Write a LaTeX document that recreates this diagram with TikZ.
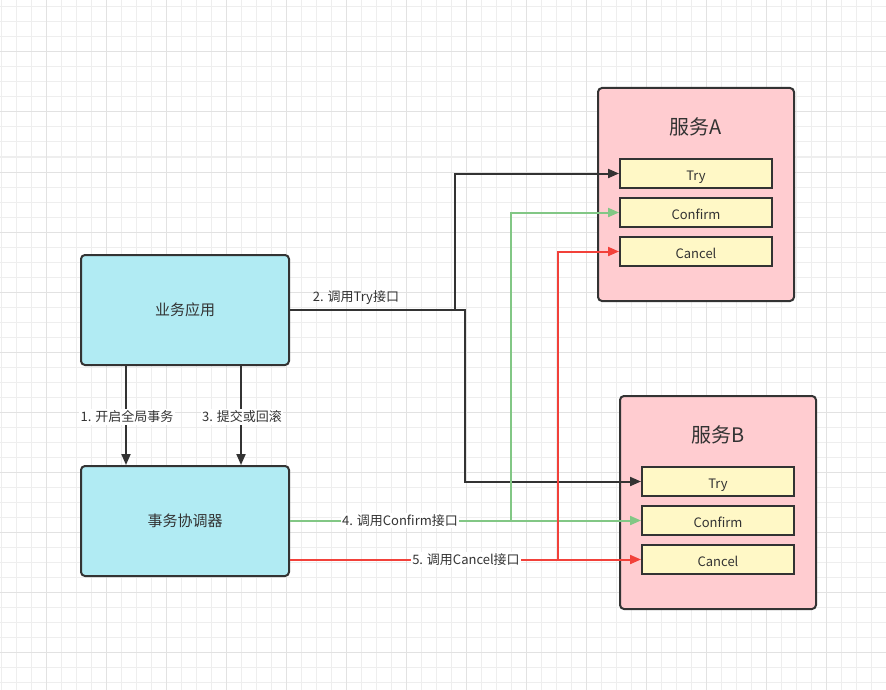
\documentclass[tikz,border=0pt]{standalone}
\usepackage{fontspec}
\setmainfont{Noto Sans CJK SC}
\usetikzlibrary{arrows.meta}
\definecolor{dk}{HTML}{333333}
\definecolor{cyanfill}{HTML}{B1EBF3}
\definecolor{pinkfill}{HTML}{FFCCD0}
\definecolor{yelfill}{HTML}{FFF8C6}
\definecolor{grn}{HTML}{82C785}
\definecolor{rd}{HTML}{F2413A}
\definecolor{gridminor}{HTML}{EEEEEE}
\definecolor{gridmajor}{HTML}{E2E2E2}
\tikzset{
  bigbox/.style={draw=dk, line width=2pt, rounded corners=4pt, fill=cyanfill, minimum width=208pt, minimum height=110pt, text=dk, font=\fontsize{15}{17}\selectfont, inner sep=0pt},
  svcbox/.style={draw=dk, line width=2pt, rounded corners=4pt, fill=pinkfill, minimum width=196pt, minimum height=213pt, inner sep=0pt},
  opbox/.style={draw=dk, line width=2pt, fill=yelfill, minimum width=152pt, minimum height=29pt, text=dk, font=\fontsize{13}{15}\selectfont, inner sep=0pt, text height=13pt, text depth=0pt},
  svctitle/.style={text=dk, font=\fontsize{20}{22}\selectfont, inner sep=0pt},
  lbl/.style={text=dk, font=\fontsize{13}{15}\selectfont, inner sep=1.5pt},
  lblbg/.style={lbl, fill=white},
  dkline/.style={draw=dk, line width=2pt, -{Triangle[length=11pt,width=9pt]}},
  gline/.style={draw=grn, line width=2pt, -{Triangle[length=11pt,width=9pt]}},
  rline/.style={draw=rd, line width=2pt, -{Triangle[length=11pt,width=9pt]}},
}
\begin{document}
\begin{tikzpicture}[x=1pt,y=-1pt]
\useasboundingbox (0,0) rectangle (886,690);
\fill[white] (0,0) rectangle (886,690);
% grid
\foreach \gx in {1,16,...,886} \draw[gridminor, line width=1pt] (\gx,0) -- (\gx,690);
\foreach \gy in {7,22,...,690} \draw[gridminor, line width=1pt] (0,\gy) -- (886,\gy);
\foreach \gx in {46,106,...,886} \draw[gridmajor, line width=1pt] (\gx,0) -- (\gx,690);
\foreach \gy in {52,112,...,690} \draw[gridmajor, line width=1pt] (0,\gy) -- (886,\gy);

% boxes
\node[bigbox] (app) at (185,310) {业务应用};
\node[bigbox] (coord) at (185,521) {事务协调器};
\node[svcbox] (svcA) at (696,194.5) {};
\node[svcbox] (svcB) at (718,502.5) {};
\node[svctitle] (titleA) at (696,127) {服务A};
\node[svctitle] (titleB) at (718,435) {服务B};
\node[opbox] (tryA) at (696,173.5) {Try};
\node[opbox] (confirmA) at (696,212.5) {Confirm};
\node[opbox] (cancelA) at (696,251.5) {Cancel};
\node[opbox] (tryB) at (718,481.5) {Try};
\node[opbox] (confirmB) at (718,520.5) {Confirm};
\node[opbox] (cancelB) at (718,559.5) {Cancel};

% connectors
\draw[dkline] (app.east) -- (455,310) |- (tryA.west);
\draw[dkline] (app.east) -- (465,310) |- (tryB.west);
\draw[dkline] (app.south -| 126,0) -- (coord.north -| 126,0);
\draw[dkline] (app.south -| 241,0) -- (coord.north -| 241,0);
\draw[gline] (coord.east |- confirmB.west) -- (511,520.5) |- (confirmA.west);
\draw[gline] (coord.east |- confirmB.west) -- (confirmB.west);
\draw[rline] (coord.east |- cancelB.west) -- (557.5,559.5) |- (cancelA.west);
\draw[rline] (coord.east |- cancelB.west) -- (cancelB.west);

% labels
\node[lbl] (l2) at (356,298) {2. 调用Try接口};
\node[lblbg] (l1) at (127,417) {1. 开启全局事务};
\node[lblbg] (l3) at (242,417) {3. 提交或回滚};
\node[lblbg] (l4) at (400,520.5) {4. 调用Confirm接口};
\node[lblbg] (l5) at (466,559.5) {5. 调用Cancel接口};
\end{tikzpicture}
\end{document}
